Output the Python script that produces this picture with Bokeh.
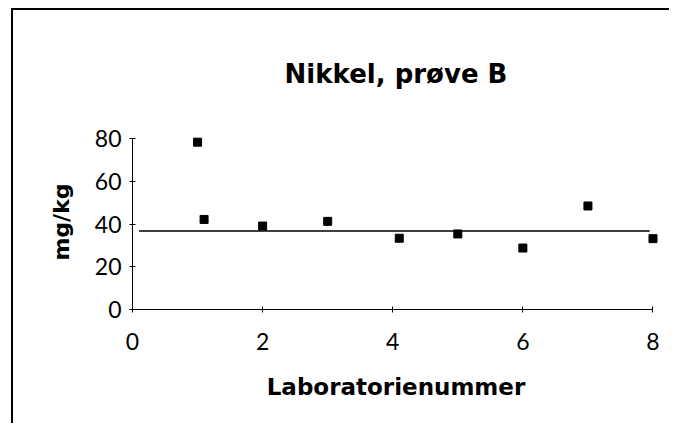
from bokeh.plotting import figure
from bokeh.models import Range1d, FixedTicker, ColumnDataSource
from bokeh.embed import file_html
from bokeh.resources import INLINE

# Data
lab_number = [1.0, 1.1, 2.0, 3.0, 4.1, 5.0, 6.0, 7.0, 8.0]
nickel_mg_kg = [78.4, 42.2, 39.1, 41.3, 33.4, 35.4, 28.8, 48.5, 33.2]
mean_x = [0.1, 7.95]
mean_y = [36.8, 36.8]
x_ticks = [0, 2, 4, 6, 8]
y_ticks = [0, 20, 40, 60, 80]

title_text = "Nikkel, prøve B"
x_label = "Laboratorienummer"
y_label = "mg/kg"

p = figure(
    width=658, height=415,
    x_range=Range1d(0, 8.1), y_range=Range1d(0, 82),
    output_backend="svg", toolbar_location=None,
    min_border_left=119, min_border_right=12,
    min_border_top=124, min_border_bottom=116,
    title=title_text,
)
p.styles = {
    "position": "absolute",
    "left": "13px",
    "top": "10px",
    "box-shadow": "-2px -2px 0px 0px black",
}
p.background_fill_color = "white"
p.border_fill_color = "white"
p.outline_line_color = None
p.xgrid.visible = False
p.ygrid.visible = False

p.title.align = "center"
p.title.text_font = "DejaVu Sans"
p.title.text_font_style = "bold"
p.title.text_font_size = "26px"
p.title.text_color = "black"
p.title.standoff = 92

for ax in (p.xaxis[0], p.yaxis[0]):
    ax.axis_line_color = "black"
    ax.axis_line_width = 1
    ax.major_tick_line_color = "black"
    ax.major_tick_in = 3
    ax.major_tick_out = 3
    ax.minor_tick_line_color = None
    ax.major_label_text_font = "Lato"
    ax.major_label_text_font_size = "23px"
    ax.major_label_text_color = "black"
    ax.axis_label_text_font = "DejaVu Sans"
    ax.axis_label_text_font_style = "bold"
    ax.axis_label_text_color = "black"

p.xaxis.ticker = FixedTicker(ticks=x_ticks)
p.yaxis.ticker = FixedTicker(ticks=y_ticks)
p.xaxis.bounds = (x_ticks[0], x_ticks[-1])
p.yaxis.bounds = (y_ticks[0], y_ticks[-1])

p.xaxis.axis_label = x_label
p.xaxis.axis_label_text_font_size = "23px"
p.xaxis.major_label_standoff = 20
p.xaxis.axis_label_standoff = 21

p.yaxis.axis_label = y_label
p.yaxis.axis_label_text_font_size = "22px"
p.yaxis.major_label_standoff = 8
p.yaxis.axis_label_standoff = 18

src = ColumnDataSource(dict(x=lab_number, y=nickel_mg_kg))
p.line(mean_x, mean_y, line_color="black", line_width=1.5)
p.scatter("x", "y", source=src, marker="square", size=8,
          fill_color="black", line_color="black")

open("out.html", "w").write(file_html(p, INLINE))
